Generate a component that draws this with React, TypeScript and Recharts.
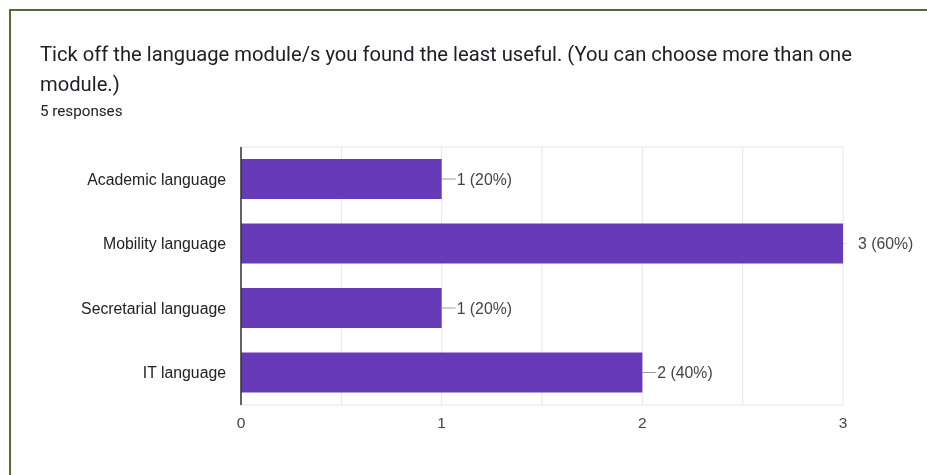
import React from 'react';
import { BarChart, Bar, XAxis, YAxis, CartesianGrid, LabelList } from 'recharts';

const modules = ['Academic language', 'Mobility language', 'Secretarial language', 'IT language'];
const counts = [1, 3, 1, 2];
const percents = [20, 60, 20, 40];
const xTicks = [0, 0.5, 1, 1.5, 2, 2.5, 3];
const xMax = 3;

const data = modules.map((name, i) => ({ name, count: counts[i], pct: percents[i] }));

const axisFont = "'Liberation Sans', Arial, sans-serif";

const BarLabel = (props: any) => {
  const { x, y, width, height, index } = props;
  const endX = x + width;
  const cy = y + height / 2;
  // the leader line fades out where the bar touches the plot edge
  const atEdge = counts[index] >= xMax;
  return (
    <g>
      <line x1={endX} y1={cy} x2={endX + (atEdge ? 4 : 14)} y2={cy} stroke={atEdge ? '#e0e0e0' : '#9e9e9e'} strokeWidth={1} />
      <text x={endX + 15} y={cy} dy="0.35em" fill="#444" fontSize={15.8} fontFamily={axisFont}>
        {`${counts[index]} (${percents[index]}%)`}
      </text>
    </g>
  );
};

export default function App() {
  return (
    <div style={{ position: 'relative', width: 911, height: 459, fontFamily: 'Roboto, sans-serif' }}>
      <div
        style={{
          position: 'fixed', left: 9, top: 9, width: 1000, height: 600,
          borderLeft: '2px solid #4e6f32', borderTop: '2px solid #4e6f32',
        }}
      />
      <div style={{ position: 'absolute', left: 32, top: 31, width: 880, fontSize: 20.2, lineHeight: '30px', color: '#202124' }}>
        Tick off the language module/s you found the least useful. (You can choose more than one module.)
      </div>
      <div style={{ position: 'absolute', left: 32, top: 94, fontSize: 15.2, color: '#202124' }}>5 responses</div>
      <div style={{ position: 'absolute', left: 0, top: 122 }}>
        <BarChart
          width={911}
          height={310}
          data={data}
          layout="vertical"
          margin={{ top: 17, right: 76, bottom: 5, left: 0 }}
          barSize={40}
        >
          <CartesianGrid
            stroke="#e6e6e6"
            horizontalCoordinatesGenerator={({ offset }: any) => [offset.top, offset.top + offset.height]}
          />
          <XAxis
            type="number"
            domain={[0, xMax]}
            ticks={xTicks}
            interval={0}
            tickFormatter={(v: number) => (Number.isInteger(v) ? String(v) : '')}
            axisLine={false}
            tickLine={false}
            tickSize={0}
            tickMargin={12}
            tick={{ fill: '#444', fontSize: 15.5, fontFamily: axisFont }}
            height={30}
          />
          <YAxis
            type="category"
            dataKey="name"
            width={233}
            axisLine={{ stroke: '#333', strokeWidth: 1.5 }}
            tickLine={false}
            tickSize={0}
            tickMargin={15}
            tick={{ fill: '#222', fontSize: 15.8, fontFamily: axisFont }}
          />
          <Bar dataKey="count" fill="#673ab7" isAnimationActive={false}>
            <LabelList dataKey="count" content={<BarLabel />} />
          </Bar>
        </BarChart>
      </div>
    </div>
  );
}
